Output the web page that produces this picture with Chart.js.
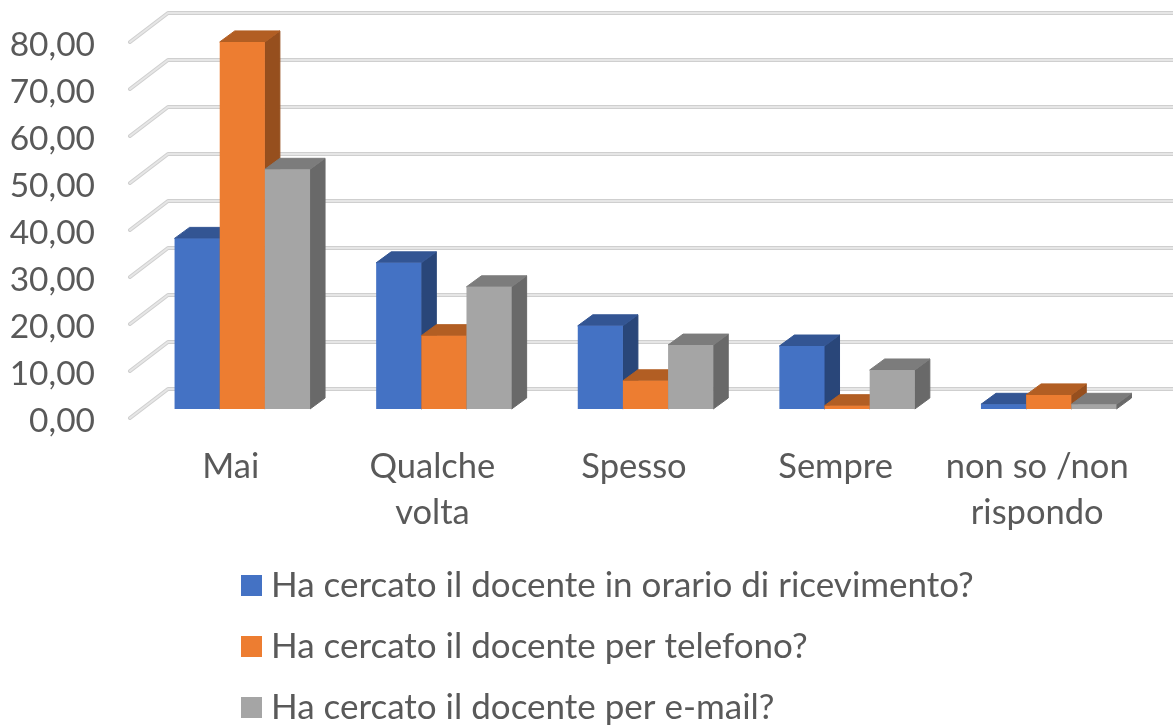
<!DOCTYPE html>
<html lang="it">
  <head>
    <meta charset="UTF-8" />
    <title>Ha cercato il docente</title>
    <script src="https://cdn.jsdelivr.net/npm/chart.js"></script>
    <style>
      body { margin: 0; background: #fff; }
      #chart { display: block; }
    </style>
  </head>
  <body>
    <canvas id="chart" width="1173" height="725"></canvas>
    <script>
      const categories = ["Mai", ["Qualche", "volta"], "Spesso", "Sempre", ["non so /non", "rispondo"]];
      const seriesNames = [
        "Ha cercato il docente in orario di ricevimento?",
        "Ha cercato il docente per telefono?",
        "Ha cercato il docente per e-mail?",
      ];
      const ricevimento = [36.3, 31.1, 17.7, 13.4, 1.0];
      const telefono = [78.1, 15.6, 6.0, 0.7, 3.0];
      const email = [51.0, 26.0, 13.6, 8.3, 1.0];

      const frontColors = ["#4472c4", "#ed7d31", "#a5a5a5"];
      const topColors = ["#335593", "#b25e23", "#7c7c7c"];
      const sideColors = ["#294679", "#964f1e", "#696969"];

      const FONT = "Lato";
      const TEXT = "#595959";

      // fake 3D: wall depth, bar offset inside the floor, bar depth
      const WALL = { dx: 38, dy: -29 };
      const SHIFT = { dx: 11.5, dy: -9 };
      const DEPTH = { dx: 15, dy: -11 };

      function poly(ctx, pts, fill) {
        ctx.beginPath();
        pts.forEach((p, i) => (i ? ctx.lineTo(p[0], p[1]) : ctx.moveTo(p[0], p[1])));
        ctx.closePath();
        ctx.fillStyle = fill;
        ctx.fill();
        ctx.strokeStyle = fill;
        ctx.lineWidth = 1;
        ctx.stroke();
      }

      const wallPlugin = {
        id: "wall",
        beforeDatasetsDraw(chart) {
          const { ctx, scales } = chart;
          const yScale = scales.y;
          ctx.save();
          ctx.lineCap = "round";
          ctx.lineJoin = "round";
          yScale.ticks.forEach((t) => {
            const y = yScale.getPixelForValue(t.value);
            const x0 = chart.chartArea.left;
            const pts = [[x0, y], [x0 + WALL.dx, y + WALL.dy], [chart.width + 5, y + WALL.dy]];
            [[4, "#cfcfcf"], [2, "#e6e6e6"]].forEach(([w, c]) => {
              ctx.beginPath();
              ctx.moveTo(pts[0][0], pts[0][1]);
              ctx.lineTo(pts[1][0], pts[1][1]);
              ctx.lineTo(pts[2][0], pts[2][1]);
              ctx.lineWidth = w;
              ctx.strokeStyle = c;
              ctx.stroke();
            });
          });
          ctx.restore();

          // series left to right so the right bar covers the side of the left one
          chart.data.datasets.forEach((ds, i) => {
            const meta = chart.getDatasetMeta(i);
            ctx.save();
            ctx.translate(SHIFT.dx, SHIFT.dy);
            meta.data.forEach((bar) => {
              const l = bar.x - bar.width / 2;
              const r = bar.x + bar.width / 2;
              const t = bar.y;
              const b = bar.base;
              poly(ctx, [[r, t], [r + DEPTH.dx, t + DEPTH.dy], [r + DEPTH.dx, b + DEPTH.dy], [r, b]], sideColors[i]);
              poly(ctx, [[l, t], [l + DEPTH.dx, t + DEPTH.dy], [r + DEPTH.dx, t + DEPTH.dy], [r, t]], topColors[i]);
            });
            meta.controller.draw();
            ctx.restore();
          });
          return false;
        },
        afterDraw(chart) {
          // legend stacked by hand, the native one can't do this spacing
          const { ctx } = chart;
          ctx.save();
          ctx.font = `35px ${FONT}`;
          ctx.textBaseline = "middle";
          chart.data.datasets.forEach((ds, i) => {
            const y = 585.5 + i * 61;
            ctx.fillStyle = frontColors[i];
            ctx.fillRect(241, y - 10.5, 21, 21);
            ctx.fillStyle = TEXT;
            ctx.fillText(ds.label, 271, y);
          });
          ctx.restore();
        },
      };

      new Chart(document.getElementById("chart"), {
        type: "bar",
        data: {
          labels: categories,
          datasets: [ricevimento, telefono, email].map((values, i) => ({
            label: seriesNames[i],
            data: values,
            backgroundColor: frontColors[i],
            borderWidth: 0,
            categoryPercentage: 0.672,
            barPercentage: 1,
          })),
        },
        options: {
          responsive: false,
          animation: false,
          layout: { padding: { top: 42, right: 35, left: 0, bottom: 0 } },
          plugins: { legend: { display: false }, tooltip: { enabled: false } },
          scales: {
            x: {
              grid: { display: false, drawTicks: false },
              border: { display: false },
              afterFit: (s) => { s.height = 307; },
              ticks: {
                color: TEXT,
                font: { family: FONT, size: 34.5, lineHeight: 1.33 },
                padding: 26,
                maxRotation: 0,
                autoSkip: false,
              },
            },
            y: {
              min: 0,
              max: 80,
              grid: { display: false, drawTicks: false },
              border: { display: false },
              afterFit: (s) => {
                s.width = 130;
                // tick padding would otherwise push the plot top down
                s.paddingTop = 0;
                s.paddingBottom = 0;
              },
              ticks: {
                stepSize: 10,
                color: TEXT,
                font: { family: FONT, size: 33.5 },
                padding: 35,
                labelOffset: 3,
                callback: (v) => v.toFixed(2).replace(".", ","),
              },
            },
          },
        },
        plugins: [wallPlugin],
      });
    </script>
  </body>
</html>
